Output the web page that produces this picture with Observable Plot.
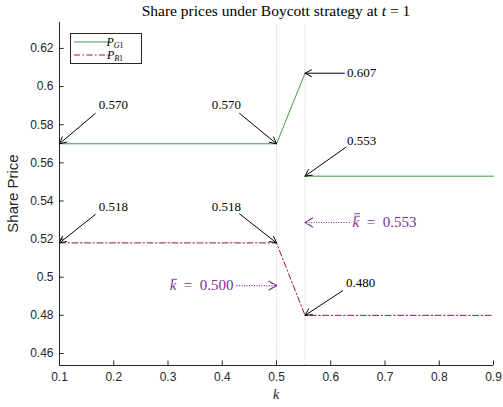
<!DOCTYPE html>
<html><head><meta charset="utf-8">
<script src="https://cdn.jsdelivr.net/npm/d3@7"></script>
<script src="https://cdn.jsdelivr.net/npm/@observablehq/plot@0.6"></script>
<style>body{margin:0;background:#fff} #chart svg{display:block}</style>
</head><body><div id="chart"></div>
<script>
// ---- data ----
const xTicks = [0.1, 0.2, 0.3, 0.4, 0.5, 0.6, 0.7, 0.8, 0.9];
const yTicks = [0.46, 0.48, 0.50, 0.52, 0.54, 0.56, 0.58, 0.60, 0.62];
const kBar = 0.5;
const kBarBar = 0.5526;
const g1Left = [{k: 0.1, p: 0.570}, {k: 0.5, p: 0.570}, {k: 0.5526, p: 0.607}];
const g1Right = [{k: 0.5526, p: 0.553}, {k: 0.9, p: 0.553}];
const b1 = [{k: 0.1, p: 0.518}, {k: 0.5, p: 0.518}, {k: 0.5526, p: 0.480}, {k: 0.9, p: 0.480}];
const seriesNames = ["G1", "B1"];
// annotation: value label, point (k,p), arrow tail (tk,tp), label position (lk,lp)
const notes = [
  {label: "0.570", k: 0.1,    p: 0.570, tk: 0.166, tp: 0.5859, lk: 0.1995, lp: 0.5906},
  {label: "0.570", k: 0.5,    p: 0.570, tk: 0.432, tp: 0.5859, lk: 0.4078, lp: 0.5906},
  {label: "0.607", k: 0.5526, p: 0.607, tk: 0.625, tp: 0.607,  lk: 0.6567, lp: 0.6073},
  {label: "0.553", k: 0.5526, p: 0.553, tk: 0.628, tp: 0.5682, lk: 0.6567, lp: 0.5718},
  {label: "0.518", k: 0.1,    p: 0.518, tk: 0.166, tp: 0.5329, lk: 0.1995, lp: 0.5368},
  {label: "0.518", k: 0.5,    p: 0.518, tk: 0.432, tp: 0.5332, lk: 0.4078, lp: 0.5368},
  {label: "0.480", k: 0.5526, p: 0.480, tk: 0.622, tp: 0.4929, lk: 0.6549, lp: 0.4969}
];
const thresholdNotes = [
  {name: "kbar",    bars: 1, value: "0.500", k: 0.5,    p: 0.4956, tk: 0.4263},
  {name: "kbarbar", bars: 2, value: "0.553", k: 0.5526, p: 0.5287, tk: 0.6346}
];
const yMin = 0.4537, yMax = 0.6336;

const green = "#3f9b45";
const red = "#a2142f";
const purple = "#7e2f8e";
const axisColor = "#262626";
const serif = "'Liberation Serif', 'DejaVu Serif', serif";
const sans = "'Liberation Sans', Arial, sans-serif";

const chart = Plot.plot({
  width: 503, height: 407,
  marginLeft: 59, marginRight: 10, marginTop: 22, marginBottom: 42,
  style: {fontFamily: sans, fontSize: "12px", color: axisColor, background: "#fff"},
  x: {domain: [0.1, 0.9], ticks: xTicks, tickSize: 0, tickPadding: 7, tickFormat: d => d3.format(".1f")(d), label: null},
  y: {domain: [yMin, yMax], ticks: yTicks, tickSize: 0, tickPadding: 6, tickFormat: d => String(+d.toFixed(2)), label: null},
  marks: [
    Plot.ruleX([kBar, kBarBar], {stroke: purple, strokeOpacity: 0.3, strokeDasharray: "1,1.5", y1: yMin, y2: yMax - 0.001}),
    Plot.line(g1Left, {x: "k", y: "p", stroke: green, strokeWidth: 1}),
    Plot.line(g1Right, {x: "k", y: "p", stroke: green, strokeWidth: 1}),
    Plot.line(b1, {x: "k", y: "p", stroke: red, strokeWidth: 1, strokeDasharray: "6,2.5,1.5,2.5"}),
    // axes lines and inward ticks
    Plot.ruleY([yMin], {stroke: axisColor, x1: 0.1, x2: 0.9}),
    Plot.ruleX([0.1], {stroke: axisColor, y1: yMin, y2: yMax}),
    Plot.ruleX(xTicks, {stroke: axisColor, y1: yMin, y2: yMin + 0.0024}),
    Plot.ruleY(yTicks, {stroke: axisColor, x1: 0.1, x2: 0.1 + 0.0085}),
    // black annotations
    Plot.arrow(notes, {x1: "tk", y1: "tp", x2: "k", y2: "p", stroke: "black", strokeWidth: 1, headLength: 11, headAngle: 55}),
    Plot.text(notes, {x: "lk", y: "lp", text: "label", fontFamily: serif, fontSize: 13, fill: "black"}),
    // purple threshold annotations: solid head, dotted shaft
    Plot.arrow(thresholdNotes, {x1: "tk", y1: "p", x2: "k", y2: "p", stroke: purple, strokeWidth: 1.2, headLength: 11, headAngle: 60}),
    Plot.link(thresholdNotes, {x1: "tk", y1: "p", x2: d => d.k + (d.tk < d.k ? -0.003 : 0.003), y2: "p", stroke: "white", strokeWidth: 2}),
    Plot.link(thresholdNotes, {x1: "tk", y1: "p", x2: "k", y2: "p", stroke: purple, strokeWidth: 1, strokeDasharray: "1,1.5"}),
    Plot.text(thresholdNotes.filter(d => d.tk < d.k), {x: "tk", y: "p", text: d => "k = " + d.value, textAnchor: "end", dx: -3, fontFamily: serif, fontSize: 15, fill: purple}),
    Plot.text(thresholdNotes.filter(d => d.tk > d.k), {x: "tk", y: "p", text: d => "k = " + d.value, textAnchor: "start", dx: 3, fontFamily: serif, fontSize: 15, fill: purple})
  ]
});

document.getElementById("chart").appendChild(chart);
const svg = d3.select(chart);

// italicize k, widen spacing, add over-bars
svg.selectAll("text").each(function() {
  const t = this.textContent;
  const m = t.match(/^k = (0\.\d+)$/);
  if (!m) return;
  const note = thresholdNotes.find(d => d.value === m[1]);
  const sel = d3.select(this);
  sel.text(null);
  sel.append("tspan").attr("font-style", "italic").text("k");
  sel.append("tspan").text("\u2002=\u2002" + m[1]);
  const ext = this.getExtentOfChar(0);
  const ctm = this.getCTM();
  const svgCtm = chart.getCTM ? chart.getScreenCTM() : null;
  // compute coordinates in svg space
  const pt = chart.createSVGPoint();
  pt.x = ext.x; pt.y = ext.y;
  const m1 = this.getScreenCTM(), m2 = chart.getScreenCTM().inverse();
  const p1 = pt.matrixTransform(m1).matrixTransform(m2);
  const x0 = p1.x + 1.8, x1 = p1.x + ext.width + 0.8;
  const ytop = p1.y + ext.height * 0.12;
  for (let b = 0; b < note.bars; b++) {
    svg.append("line").attr("x1", x0).attr("x2", x1)
      .attr("y1", ytop - b * 2.6).attr("y2", ytop - b * 2.6)
      .attr("stroke", purple).attr("stroke-width", 0.9);
  }
});

const W = 503, H = 407, mL = 59, mR = 10, mT = 22, mB = 42;
// title
const title = svg.append("text").attr("x", mL + (W - mL - mR) / 2).attr("y", 16)
  .attr("text-anchor", "middle").attr("font-family", serif).attr("font-size", 15.5).attr("fill", "black");
title.append("tspan").text("Share prices under Boycott strategy at ");
title.append("tspan").attr("font-style", "italic").text("t");
title.append("tspan").text(" = 1");
// axis labels
svg.append("text").attr("x", mL + (W - mL - mR) / 2).attr("y", 399).attr("text-anchor", "middle")
  .attr("font-family", serif).attr("font-style", "italic").attr("font-size", 14).attr("fill", axisColor).text("k");
svg.append("text").attr("transform", `translate(18,${mT + (H - mT - mB) / 2}) rotate(-90)`)
  .attr("text-anchor", "middle").attr("font-family", sans)
  .attr("font-size", 15).attr("fill", axisColor).text("Share Price");
// legend
const lg = svg.append("g");
lg.append("rect").attr("x", 70.5).attr("y", 33.5).attr("width", 71).attr("height", 30)
  .attr("fill", "white").attr("stroke", axisColor).attr("stroke-width", 1);
const legendStyles = [{stroke: green, dash: null}, {stroke: red, dash: "6,2.5,1.5,2.5"}];
seriesNames.forEach((s, i) => {
  const y = 42 + i * 13;
  lg.append("line").attr("x1", 74).attr("x2", 111).attr("y1", y).attr("y2", y)
    .attr("stroke", legendStyles[i].stroke).attr("stroke-dasharray", legendStyles[i].dash);
  const t = lg.append("text").attr("x", 115).attr("y", y + 4).attr("font-family", serif).attr("font-size", 12).attr("fill", "black");
  t.append("tspan").attr("font-style", "italic").text("P");
  const sub = t.append("tspan").attr("font-size", 8).attr("dy", 2);
  sub.append("tspan").attr("font-style", "italic").text(s[0]);
  sub.append("tspan").text(s.slice(1));
});
</script></body></html>
